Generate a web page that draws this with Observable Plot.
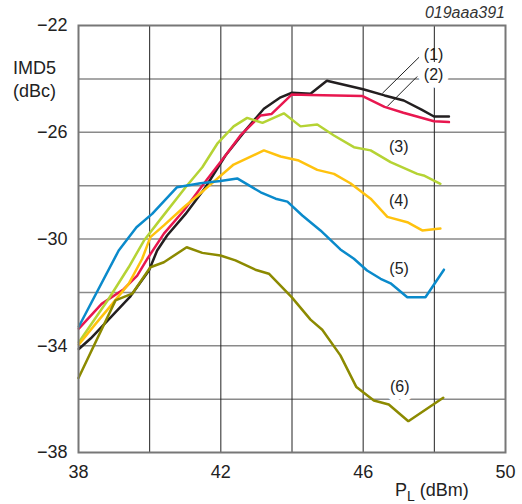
<!DOCTYPE html>
<html>
<head>
<meta charset="utf-8">
<script src="https://cdn.jsdelivr.net/npm/d3@7"></script>
<script src="https://cdn.jsdelivr.net/npm/@observablehq/plot@0.6"></script>
<style>
  html, body { margin: 0; padding: 0; background: #fff; }
  #chart { position: relative; width: 522px; height: 504px; }
</style>
</head>
<body>
<div id="chart"></div>
<script>
// Curve (1) black
const x1 = [38.01, 38.34, 38.87, 39.46, 39.98, 40.21, 40.49, 41.01, 41.57, 42.13, 42.69, 43.21, 43.68, 44.00, 44.52, 44.98, 46.00, 46.60, 47.14, 47.64, 47.99, 48.41];
const y1 = [-34.12, -33.73, -32.98, -32.15, -31.18, -30.43, -29.87, -29.06, -28.06, -26.87, -25.93, -25.12, -24.69, -24.52, -24.56, -24.07, -24.39, -24.62, -24.81, -25.15, -25.41, -25.41];
// Curve (2) red
const x2 = [38.01, 38.65, 39.27, 39.65, 39.95, 40.40, 40.96, 41.52, 42.13, 42.55, 43.12, 43.42, 43.99, 44.52, 45.97, 46.60, 47.13, 47.99, 48.41];
const y2 = [-33.36, -32.43, -31.88, -31.37, -30.71, -29.80, -28.93, -27.93, -26.87, -26.12, -25.37, -25.32, -24.59, -24.60, -24.64, -25.05, -25.27, -25.59, -25.62];
// Curve (3) light green
const x3 = [38.01, 38.85, 39.41, 39.84, 40.35, 41.01, 41.48, 41.90, 42.36, 42.74, 43.17, 43.77, 44.24, 44.71, 45.18, 45.74, 46.21, 46.77, 47.52, 47.70, 48.17];
const y3 = [-33.87, -32.24, -31.06, -30.06, -29.18, -28.06, -27.31, -26.43, -25.78, -25.46, -25.65, -25.29, -25.78, -25.71, -26.12, -26.56, -26.68, -27.12, -27.56, -27.62, -27.93];
// Curve (4) yellow
const x4 = [38.01, 38.48, 38.95, 39.41, 39.79, 40.02, 40.40, 40.96, 41.52, 42.36, 43.21, 43.68, 44.19, 44.71, 45.18, 45.64, 46.21, 46.68, 47.24, 47.66, 48.17];
const y4 = [-33.95, -33.18, -32.43, -31.68, -30.74, -29.93, -29.49, -28.81, -28.18, -27.21, -26.68, -26.91, -27.06, -27.41, -27.56, -27.91, -28.49, -29.17, -29.37, -29.68, -29.61];
// Curve (5) blue
const x5 = [38.01, 39.13, 39.63, 40.07, 40.77, 41.43, 41.99, 42.46, 43.12, 43.54, 43.87, 44.29, 44.80, 45.36, 45.74, 46.11, 46.49, 46.77, 47.24, 47.75, 48.27];
const y5 = [-33.28, -30.43, -29.56, -29.06, -28.06, -27.91, -27.83, -27.73, -28.25, -28.49, -28.60, -29.12, -29.68, -30.39, -30.74, -31.18, -31.49, -31.66, -32.18, -32.18, -31.15];
// Curve (6) olive
const x6 = [38.00, 39.04, 39.51, 40.02, 40.40, 41.04, 41.48, 41.99, 42.41, 42.97, 43.35, 43.99, 44.52, 44.85, 45.36, 45.81, 46.30, 46.72, 47.27, 48.25];
const y6 = [-35.21, -32.30, -32.05, -31.06, -30.87, -30.31, -30.52, -30.62, -30.80, -31.15, -31.30, -32.18, -33.02, -33.40, -34.36, -35.55, -36.05, -36.20, -36.83, -35.95];

const seriesNames = ["(1)", "(2)", "(3)", "(4)", "(5)", "(6)"];
const seriesColors = ["#231f20", "#e8174f", "#b5d334", "#ffc20e", "#0a8acb", "#8c8a00"];

const xTicks = [38, 42, 46, 50];
const yTicks = [-38, -34, -30, -26, -22];
const xGrid = [40, 42, 44, 46, 48];
const yGrid = [-36, -34, -32, -30, -28, -26, -24];

// label positions (data units)
const labelX = [47.98, 47.98, 47.0, 47.0, 47.01, 47.03];
const labelY = [-23.09, -23.84, -26.56, -28.56, -31.12, -35.55];
// leader lines for (1) and (2)
const leaderX1 = [47.57, 47.52];
const leaderY1 = [-23.19, -23.91];
const leaderX2 = [46.54, 46.68];
const leaderY2 = [-24.54, -25.03];

const xs = [x1, x2, x3, x4, x5, x6];
const ys = [y1, y2, y3, y4, y5, y6];
const lineData = [];
xs.forEach((arr, s) => arr.forEach((x, i) => lineData.push({s: seriesNames[s], x, y: ys[s][i]})));
const labels = seriesNames.map((n, i) => ({n, x: labelX[i], y: labelY[i], halo: i === 1 || i === 5}));
const leaders = leaderX1.map((x, i) => ({x1: x, y1: leaderY1[i], x2: leaderX2[i], y2: leaderY2[i]}));

const fmt = d => d < 0 ? "\u2212" + Math.abs(d) : String(d);
const font = "Liberation Sans, Arial, sans-serif";

const plot = Plot.plot({
  width: 522,
  height: 504,
  marginLeft: 78,
  marginRight: 17,
  marginTop: 25,
  marginBottom: 52,
  style: {fontFamily: font, fontSize: "18px", color: "#222", background: "#fff", overflow: "visible"},
  x: {domain: [38, 50]},
  y: {domain: [-38, -22]},
  color: {domain: seriesNames, range: seriesColors},
  marks: [
    Plot.ruleY(yGrid, {stroke: "#8a8a8a", strokeWidth: 1.5}),
    Plot.ruleX(xGrid, {stroke: "#222", strokeWidth: 1}),
    Plot.line(lineData, {x: "x", y: "y", z: "s", stroke: "s", strokeWidth: 2.5, strokeLinejoin: "miter"}),
    Plot.link(leaders, {x1: "x1", y1: "y1", x2: "x2", y2: "y2", stroke: "#222", strokeWidth: 1}),
    Plot.text(labels.filter(d => d.halo), {x: "x", y: "y", text: "n", fontSize: 16, fill: "#222",
      stroke: "white", strokeWidth: 12, paintOrder: "stroke"}),
    Plot.text(labels.filter(d => !d.halo), {x: "x", y: "y", text: "n", fontSize: 16, fill: "#222"}),
    Plot.frame({stroke: "#777", strokeWidth: 2}),
    Plot.axisX(xTicks, {tickSize: 0, tickPadding: 13, tickFormat: fmt, fontSize: 18, label: null}),
    Plot.axisY(yTicks, {tickSize: 0, tickPadding: 11, tickFormat: fmt, fontSize: 18, label: null})
  ]
});

const chart = document.getElementById("chart");
chart.appendChild(plot);

const svg = d3.select(plot);
const addText = (x, y, t, opts = {}) => svg.append("text")
  .attr("x", x).attr("y", y)
  .attr("text-anchor", opts.anchor || "start")
  .attr("font-size", opts.size || 18)
  .attr("font-style", opts.style || "normal")
  .attr("font-family", font)
  .attr("fill", opts.fill || "#222")
  .text(t);
addText(13, 74, "IMD5");
addText(13, 97, "(dBc)");
addText(505, 18, "019aaa391", {anchor: "end", size: 16, style: "italic", fill: "#333"});
const pl = svg.append("text").attr("x", 395).attr("y", 496).attr("text-anchor", "start")
  .attr("font-size", 18).attr("font-family", font).attr("fill", "#222");
pl.append("tspan").text("P");
pl.append("tspan").attr("font-size", 14).attr("dy", 5).text("L");
pl.append("tspan").attr("dy", -5).text(" (dBm)");
</script>
</body>
</html>
